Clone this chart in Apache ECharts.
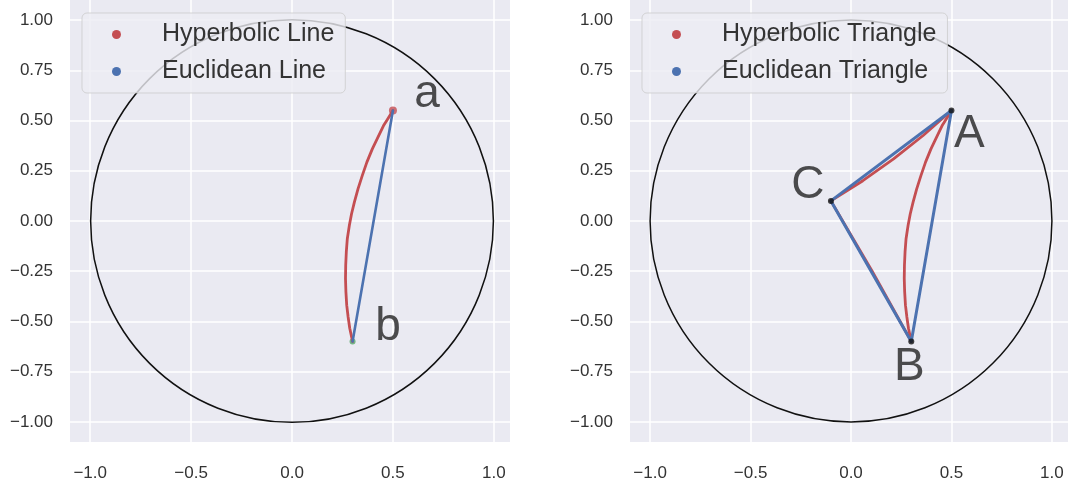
<!DOCTYPE html>
<html>
<head>
<meta charset="utf-8">
<script src="https://cdn.jsdelivr.net/npm/echarts@6/dist/echarts.min.js"></script>
<style>
  html, body { margin: 0; padding: 0; background: #fff; }
  #chart { width: 1068px; height: 482px; }
</style>
</head>
<body>
<div id="chart"></div>
<script>
// ticks
var xTicks = [-1, -0.5, 0, 0.5, 1];
var yTicks = [-1, -0.75, -0.5, -0.25, 0, 0.25, 0.5, 0.75, 1];

// unit disk: [cx, cy, r]
var disk = [[0, 0, 1]];

// left panel: points a, b
var ptA = [0.5, 0.55];
var ptB = [0.3, -0.6];
// hyperbolic geodesic a -> b
var geoAB = [
  [0.50, 0.55], [0.478, 0.514], [0.453, 0.474], [0.426, 0.418], [0.398, 0.359],
  [0.371, 0.293], [0.348, 0.226], [0.327, 0.160], [0.309, 0.094], [0.295, 0.036],
  [0.284, -0.022], [0.274, -0.088], [0.269, -0.154], [0.266, -0.220], [0.265, -0.286],
  [0.267, -0.352], [0.271, -0.419], [0.278, -0.478], [0.286, -0.534], [0.30, -0.60]
];
var eucAB = [ptA, ptB];

// right panel: triangle A, B, C
var triA = [0.5, 0.55];
var triB = [0.3, -0.6];
var triC = [-0.1, 0.1];
var geoCA = [[-0.1, 0.1], [0.059, 0.2005], [0.212, 0.309], [0.359, 0.4255], [0.5, 0.55]];
var geoCB = [[-0.1, 0.1], [0.104, -0.2475], [0.3, -0.6]];
var eucTri = [triA, triB, triC, triA];

// text labels [x, y, text] (baseline-left anchor)
var leftLabels = [[0.605, 0.55, 'a'], [0.412, -0.608, 'b']];
var rightLabels = [[0.512, 0.35, 'A'], [0.214, -0.807, 'B'], [-0.298, 0.10, 'C']];

var RED = '#c44e52', BLUE = '#4c72b0', GREEN = '#55a868';
var FONT = '"Liberation Sans", Arial, sans-serif';

function fmtMinus(s) { return s.replace('-', '\u2212'); }

function xAxis(idx) {
  return {
    type: 'value', gridIndex: idx, min: -1.1, max: 1.08,
    axisLine: { show: false },
    axisTick: { show: false, customValues: xTicks },
    splitLine: { show: true, lineStyle: { color: '#fff', width: 1.5 } },
    axisLabel: {
      customValues: xTicks, margin: 23, color: '#333', fontSize: 17, fontFamily: FONT,
      formatter: function (v) { return fmtMinus(v.toFixed(1)); }
    }
  };
}
function yAxis(idx) {
  return {
    type: 'value', gridIndex: idx, min: -1.1, max: 1.1,
    axisLine: { show: false },
    axisTick: { show: false, customValues: yTicks },
    splitLine: { show: true, lineStyle: { color: '#fff', width: 1.5 } },
    axisLabel: {
      customValues: yTicks, margin: 17, color: '#333', fontSize: 17, fontFamily: FONT,
      formatter: function (v) { return fmtMinus(v.toFixed(2)); }
    }
  };
}

function diskSeries(idx) {
  return {
    type: 'custom', xAxisIndex: idx, yAxisIndex: idx, data: disk, silent: true, z: 1,
    renderItem: function (params, api) {
      var c = api.coord([api.value(0), api.value(1)]);
      var s = api.size([api.value(2), api.value(2)]);
      return {
        type: 'circle',
        shape: { cx: c[0], cy: c[1], r: (s[0] + s[1]) / 2 },
        style: { fill: 'none', stroke: '#111', lineWidth: 1.5 }
      };
    }
  };
}

function lineSeries(name, idx, data, color, width, z) {
  return {
    name: name, type: 'line', xAxisIndex: idx, yAxisIndex: idx, data: data,
    showSymbol: false, symbol: 'circle', z: z, silent: true,
    itemStyle: { color: color },
    lineStyle: { color: color, width: width, join: 'round', cap: 'round' }
  };
}

function dotSeries(idx, data, color, size, z) {
  return {
    type: 'scatter', xAxisIndex: idx, yAxisIndex: idx, data: data,
    symbolSize: size, itemStyle: { color: color }, z: z, silent: true
  };
}

function labelSeries(idx, data) {
  return {
    type: 'scatter', xAxisIndex: idx, yAxisIndex: idx, data: data, symbolSize: 0, z: 10, silent: true,
    label: {
      show: true, position: 'inside', align: 'left', verticalAlign: 'middle', offset: [0, -16],
      color: '#222', fontSize: 46, fontFamily: FONT,
      formatter: function (p) { return p.data[2]; }
    }
  };
}

function legend(left, names) {
  return {
    orient: 'vertical', left: left, top: 13, data: names,
    icon: 'circle', itemWidth: 9, itemHeight: 9, itemGap: 12,
    padding: [9, 11, 9, 30],
    backgroundColor: 'rgba(236,236,243,0.8)',
    borderColor: 'rgba(204,204,204,0.8)', borderWidth: 1, borderRadius: 5,
    selectedMode: false,
    textStyle: { color: '#333', fontSize: 25, fontFamily: FONT, lineHeight: 24, padding: [0, 0, 0, 36] }
  };
}

var chart = echarts.init(document.getElementById('chart'));
chart.setOption({
  animation: false,
  backgroundColor: '#fff',
  grid: [
    { left: 70, top: 0, width: 440, height: 444, backgroundColor: '#eaeaf2', show: true, borderWidth: 0 },
    { left: 630, top: 0, width: 440, height: 444, backgroundColor: '#eaeaf2', show: true, borderWidth: 0 }
  ],
  xAxis: [xAxis(0), xAxis(1)],
  yAxis: [yAxis(0), yAxis(1)],
  legend: [
    legend(82, ['Hyperbolic Line', 'Euclidean Line']),
    legend(642, ['Hyperbolic Triangle', 'Euclidean Triangle'])
  ],
  series: [
    diskSeries(0),
    dotSeries(0, [ptA], RED, 8, 2),
    dotSeries(0, [ptB], GREEN, 6, 2),
    lineSeries('Hyperbolic Line', 0, geoAB, RED, 2.8, 3),
    lineSeries('Euclidean Line', 0, eucAB, BLUE, 2.6, 4),
    labelSeries(0, leftLabels),

    diskSeries(1),
    lineSeries('Hyperbolic Triangle', 1, geoAB, RED, 2.8, 3),
    lineSeries('Hyperbolic Triangle', 1, geoCA, RED, 2.8, 3),
    lineSeries('Hyperbolic Triangle', 1, geoCB, RED, 2.8, 3),
    lineSeries('Euclidean Triangle', 1, eucTri, BLUE, 3, 4),
    dotSeries(1, [triA, triB, triC], '#111', 6, 5),
    labelSeries(1, rightLabels)
  ]
});
</script>
</body>
</html>
